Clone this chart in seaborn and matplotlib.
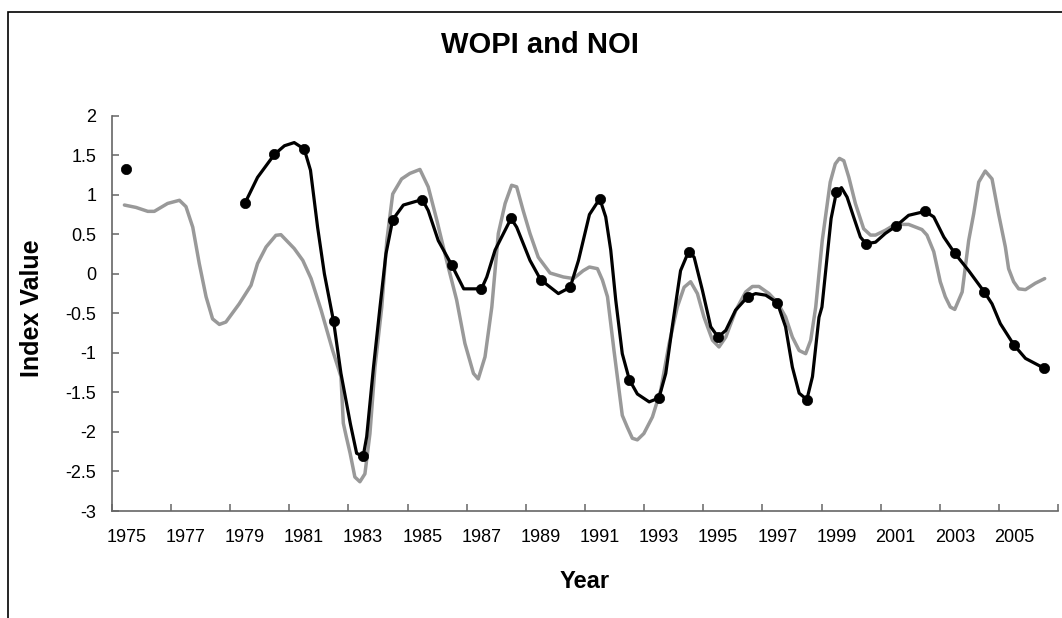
import numpy as np
import pandas as pd
import matplotlib
matplotlib.use("Agg")
import matplotlib.pyplot as plt
import seaborn as sns
from matplotlib.patches import Rectangle

# ---------------- data ----------------
# NOI (gray, sub-annual series) : decimal year, value
noi_time = [1975.43, 1975.82, 1976.22, 1976.44, 1976.89, 1977.29, 1977.51, 1977.74, 1977.96,
            1978.19, 1978.41, 1978.64, 1978.86, 1979.31, 1979.71, 1979.93, 1980.22, 1980.55,
            1980.72, 1981.17, 1981.46, 1981.74, 1982.08, 1982.47, 1982.75, 1982.83, 1982.93,
            1983.06, 1983.22, 1983.39, 1983.56, 1983.73, 1983.90, 1984.13, 1984.30, 1984.50,
            1984.80, 1985.08, 1985.42, 1985.70, 1985.99, 1986.32, 1986.66, 1986.94, 1987.23,
            1987.39, 1987.62, 1987.85, 1988.07, 1988.30, 1988.52, 1988.69, 1988.91, 1989.14,
            1989.42, 1989.82, 1990.27, 1990.61, 1990.94, 1991.15, 1991.42, 1991.59, 1991.76,
            1991.98, 1992.26, 1992.43, 1992.60, 1992.77, 1992.99, 1993.28, 1993.56, 1993.84,
            1994.12, 1994.35, 1994.57, 1994.80, 1995.02, 1995.31, 1995.53, 1995.76, 1996.10,
            1996.43, 1996.66, 1996.88, 1997.22, 1997.50, 1997.78, 1998.01, 1998.24, 1998.46,
            1998.63, 1998.80, 1999.02, 1999.29, 1999.46, 1999.60, 1999.75, 1999.92, 2000.14,
            2000.42, 2000.65, 2000.82, 2001.15, 2001.49, 2001.94, 2002.39, 2002.56, 2002.79,
            2003.01, 2003.18, 2003.35, 2003.50, 2003.75, 2003.97, 2004.14, 2004.31, 2004.53,
            2004.76, 2004.98, 2005.21, 2005.32, 2005.49, 2005.66, 2005.89, 2006.22, 2006.54]
noi_value = [0.87, 0.84, 0.79, 0.79, 0.89, 0.93, 0.85, 0.59, 0.13,
             -0.29, -0.57, -0.64, -0.61, -0.38, -0.145, 0.13, 0.34, 0.487,
             0.495, 0.32, 0.17, -0.06, -0.46, -0.97, -1.30, -1.89, -2.06,
             -2.27, -2.57, -2.63, -2.53, -2.02, -1.18, -0.42, 0.42, 1.01,
             1.20, 1.27, 1.32, 1.10, 0.68, 0.17, -0.33, -0.88, -1.26,
             -1.33, -1.05, -0.42, 0.51, 0.89, 1.12, 1.10, 0.80, 0.51,
             0.21, 0.01, -0.04, -0.06, 0.04, 0.086, 0.065, -0.08, -0.29,
             -0.97, -1.79, -1.94, -2.08, -2.10, -2.02, -1.81, -1.47, -0.89,
             -0.42, -0.17, -0.10, -0.25, -0.545, -0.84, -0.925, -0.80, -0.46,
             -0.23, -0.16, -0.16, -0.25, -0.36, -0.545, -0.80, -0.97, -1.01,
             -0.84, -0.42, 0.42, 1.16, 1.39, 1.46, 1.43, 1.22, 0.89,
             0.57, 0.49, 0.49, 0.55, 0.625, 0.625, 0.56, 0.49, 0.28,
             -0.10, -0.29, -0.42, -0.45, -0.23, 0.42, 0.76, 1.16, 1.30,
             1.20, 0.76, 0.34, 0.065, -0.10, -0.19, -0.20, -0.12, -0.06]

# WOPI smoothed line (black) : decimal year, value
wopi_line_time = [1979.5, 1979.93, 1980.5, 1980.84, 1981.17, 1981.5, 1981.57, 1981.72, 1981.96,
                  1982.19, 1982.5, 1982.75, 1983.07, 1983.28, 1983.5, 1983.62, 1983.85, 1984.07,
                  1984.27, 1984.5, 1984.86, 1985.5, 1985.70, 1986.04, 1986.5, 1986.9, 1987.5,
                  1987.68, 1987.96, 1988.5, 1988.69, 1989.14, 1989.5, 1990.1, 1990.5, 1990.78,
                  1991.15, 1991.5, 1991.70, 1991.87, 1992.04, 1992.26, 1992.5, 1992.77, 1993.17,
                  1993.5, 1993.73, 1993.95, 1994.23, 1994.5, 1994.69, 1994.97, 1995.25, 1995.5,
                  1995.76, 1996.09, 1996.5, 1996.77, 1997.11, 1997.5, 1997.78, 1998.01, 1998.24,
                  1998.5, 1998.69, 1998.91, 1999.01, 1999.25, 1999.32, 1999.5, 1999.67, 1999.86,
                  2000.08, 2000.31, 2000.5, 2000.82, 2001.15, 2001.5, 2001.94, 2002.5, 2002.79,
                  2003.13, 2003.5, 2003.97, 2004.5, 2004.76, 2005.04, 2005.5, 2005.89, 2006.5]
wopi_line_value = [0.89, 1.22, 1.51, 1.62, 1.66, 1.58, 1.50, 1.31, 0.59,
                   0.0, -0.60, -1.26, -1.90, -2.27, -2.31, -2.06, -1.18, -0.42,
                   0.25, 0.685, 0.87, 0.94, 0.80, 0.42, 0.107, -0.19, -0.19,
                   -0.04, 0.30, 0.70, 0.59, 0.17, -0.074, -0.25, -0.17, 0.17,
                   0.75, 0.95, 0.72, 0.30, -0.335, -1.01, -1.34, -1.52, -1.62,
                   -1.57, -1.26, -0.67, 0.04, 0.28, 0.21, -0.21, -0.67, -0.80,
                   -0.715, -0.46, -0.29, -0.25, -0.27, -0.365, -0.67, -1.18, -1.51,
                   -1.59, -1.30, -0.55, -0.42, 0.45, 0.70, 1.035, 1.09, 0.97,
                   0.72, 0.465, 0.38, 0.40, 0.51, 0.60, 0.74, 0.79, 0.72,
                   0.465, 0.26, 0.04, -0.23, -0.38, -0.63, -0.90, -1.07, -1.19]

# WOPI annual values (markers)
wopi_years = list(range(1975, 2007))
wopi_values = [1.33, np.nan, np.nan, np.nan, 0.89, 1.51, 1.58, -0.60, -2.31, 0.685,
               0.94, 0.107, -0.19, 0.70, -0.074, -0.17, 0.95, -1.34, -1.57, 0.28,
               -0.80, -0.29, -0.365, -1.59, 1.035, 0.38, 0.60, 0.79, 0.26, -0.23,
               -0.90, -1.19]

tick_years = list(range(1975, 2008, 2))
label_years = list(range(1975, 2006, 2))
y_ticks = [-3, -2.5, -2, -1.5, -1, -0.5, 0, 0.5, 1, 1.5, 2]

# ---------------- plot ----------------
sns.set_style("white")
plt.rcParams['font.family'] = ['Liberation Sans', 'DejaVu Sans']
plt.rcParams['text.color'] = 'black'
plt.rcParams['axes.labelcolor'] = 'black'

W, H = 1062, 618
fig = plt.figure(figsize=(W / 100, H / 100), dpi=100)
left, right, top, bottom = 111.7, 1058.3, 115.7, 511.0
ax = fig.add_axes([left / W, 1 - bottom / H, (right - left) / W, (bottom - top) / H])

sns.lineplot(x=noi_time, y=noi_value, ax=ax, color='#999999', linewidth=2.5,
             estimator=None, sort=False)
sns.lineplot(x=wopi_line_time, y=wopi_line_value, ax=ax, color='black', linewidth=2.3,
             estimator=None, sort=False)
marker_df = pd.DataFrame({'pos': [y + 0.5 for y in wopi_years], 'val': wopi_values}).dropna()
sns.scatterplot(data=marker_df, x='pos', y='val', ax=ax, color='black', s=55,
                edgecolor='black', linewidth=0.5, zorder=5)

ax.set_xlim(1975, 2007)
ax.set_ylim(-3, 2)
ax.set_yticks(y_ticks)
ax.set_yticklabels([f"{v:g}" for v in y_ticks])
ax.set_xticks(tick_years)
ax.set_xticklabels([])
ax.set_xticks([y + 0.5 for y in label_years], minor=True)
ax.set_xticklabels([str(y) for y in label_years], minor=True)

axis_col = '#666666'
for s in ['top', 'right']:
    ax.spines[s].set_visible(False)
for s in ['left', 'bottom']:
    ax.spines[s].set_color(axis_col)
    ax.spines[s].set_linewidth(1.2)
ax.tick_params(axis='both', which='major', direction='in', length=5, width=1.1,
               color=axis_col, labelsize=13, labelcolor='black', bottom=True, left=True)
ax.tick_params(axis='y', which='major', pad=11)
ax.tick_params(axis='x', which='minor', length=0, labelsize=13, pad=13,
               labelcolor='black', bottom=True)

ax.set_xlabel("Year", fontsize=17, fontweight='bold', color='black')
ax.xaxis.label.set_verticalalignment('center')
ax.xaxis.set_label_coords(0.4995, (bottom - 581.4) / (bottom - top))
ax.set_ylabel("Index Value", fontsize=18, fontweight='bold', color='black')
ax.yaxis.label.set_verticalalignment('center')
ax.yaxis.set_label_coords((31.7 - left) / (right - left), (bottom - 308.3) / (bottom - top))

ax.set_title("WOPI and NOI", fontsize=21, fontweight='bold', color='black', pad=0,
             x=(540 - left) / (right - left), y=(bottom - 45) / (bottom - top), va='center')

fig.add_artist(Rectangle((8 / W, -0.2), 1.5, 1.2 - 12 / H, transform=fig.transFigure,
                         fill=False, edgecolor='black', linewidth=1.2))

fig.savefig("out.png", dpi=100)
